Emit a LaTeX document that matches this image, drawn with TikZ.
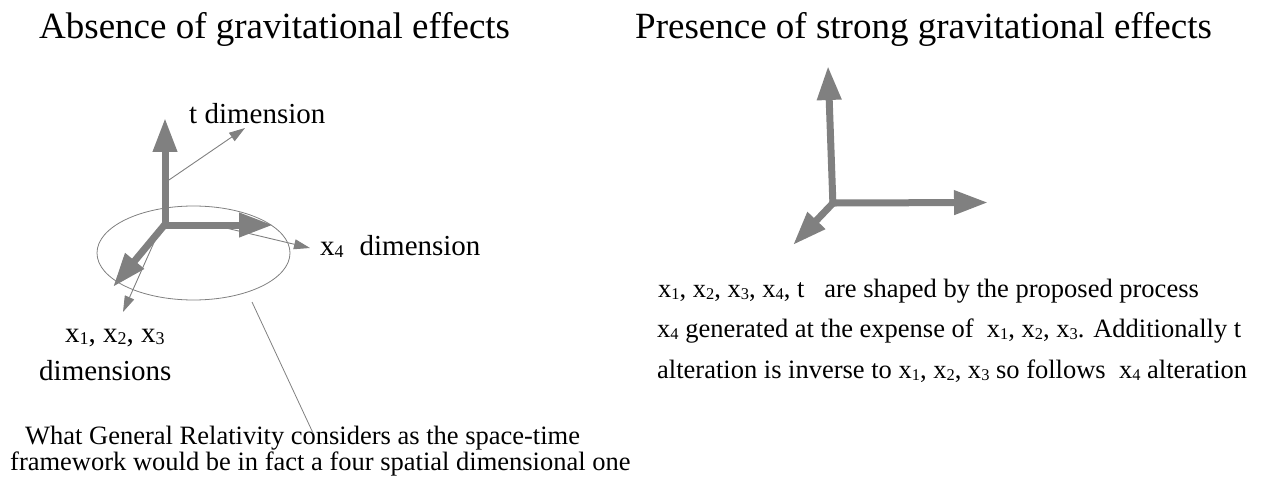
\documentclass[tikz,border=0pt]{standalone}
\usepackage{fontspec}
\setmainfont{Liberation Serif}
\usepackage{graphicx}
\usetikzlibrary{arrows.meta}
\definecolor{axgray}{HTML}{808080}
\newcommand{\sbx}[1]{\raisebox{-0.1em}{\scalebox{0.62}{#1}}}
\tikzset{
  bigax/.style={draw=axgray, line width=7pt, -{Triangle[length=34pt,width=23pt]}},
  thinax/.style={draw=axgray, line width=0.9pt, -{Triangle[length=16pt,width=10pt]}},
  thinline/.style={draw=axgray, line width=0.8pt},
  titletext/.style={anchor=base west, inner sep=0pt, font=\fontsize{37}{44}\selectfont},
  labeltext/.style={anchor=base west, inner sep=0pt, font=\fontsize{29}{34}\selectfont},
  bodytext/.style={anchor=base west, inner sep=0pt, font=\fontsize{26.5}{31}\selectfont},
}
\begin{document}
\begin{tikzpicture}[x=1pt,y=-1pt]
\useasboundingbox (0,0) rectangle (1263,481);
% titles
\node[titletext] (tl) at (39,39) {Absence of gravitational effects};
\node[titletext] (tr) at (635,39) {Presence of strong gravitational effects};
% ----- left axes
\coordinate (Ov) at (165,228.5);
\coordinate (Oh) at (161.5,225);
\coordinate (Od) at (167,222);
\coordinate (Tt) at (165,118);
\coordinate (Tx) at (273,225);
\coordinate (Td) at (113,287);
\draw[thinline] (193.5,253) ellipse [x radius=96.5, y radius=47];
\draw[bigax] (Ov) -- (Tt);
\draw[bigax] (Oh) -- (Tx);
\draw[bigax] (Od) -- (Td);
% thin arrows
\coordinate (ts) at (166,182);
\coordinate (te) at (245,128);
\coordinate (xs) at (205,223);
\coordinate (xe) at (310,248);
\coordinate (ds) at (160,229);
\coordinate (de) at (123,312);
\draw[thinax] (ts) -- (te);
\draw[thinax] (xs) -- (xe);
\draw[thinax] (ds) -- (de);
% labels
\node[labeltext] (lt) at (189,124) {t dimension};
\node[labeltext] (lx4) at (320,255) {x\sbx{4}\hspace{0.55em}dimension};
\node[labeltext] (lx) at (65,342) {x\sbx{1}, x\sbx{2}, x\sbx{3}};
\node[labeltext] (ld) at (39,380) {dimensions};
\node[bodytext] (b1) at (25,444) {What General Relativity considers as the space-time};
\node[bodytext] (b2) at (10,470) {framework would be in fact a four spatial dimensional one};
\coordinate (cs) at (252,302);
\coordinate (ce) at (313,433);
\draw[thinline] (cs) -- (ce);
% ----- right axes
\coordinate (Rv) at (833,206.5);
\coordinate (Rh) at (829.5,203);
\coordinate (Rd) at (835,201);
\coordinate (RTt) at (828,66);
\coordinate (RTx) at (988,202.5);
\coordinate (RTd) at (793,245);
\draw[bigax] (Rv) -- (RTt);
\draw[bigax] (Rh) -- (RTx);
\draw[bigax] (Rd) -- (RTd);
% right text
\node[bodytext] (r1) at (658,297) {x\sbx{1}, x\sbx{2}, x\sbx{3}, x\sbx{4}, t\hspace{0.75em}are shaped by the proposed process};
\node[bodytext] (r2) at (657,337) {x\sbx{4} generated at the expense of\hspace{0.5em}x\sbx{1}, x\sbx{2}, x\sbx{3}. Additionally t};
\node[bodytext] (r3) at (657,378) {alteration is inverse to x\sbx{1}, x\sbx{2}, x\sbx{3} so follows\hspace{0.5em}x\sbx{4} alteration};
\end{tikzpicture}
\end{document}
